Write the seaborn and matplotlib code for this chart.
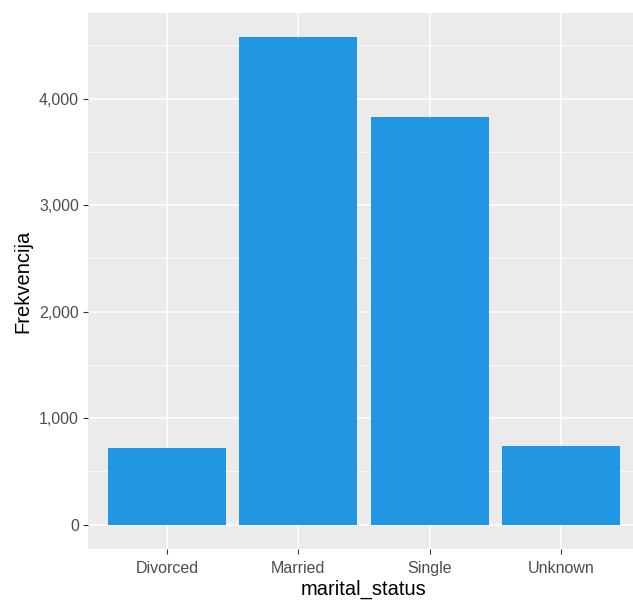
import matplotlib
matplotlib.use("Agg")
import matplotlib.pyplot as plt
import seaborn as sns
import pandas as pd
from matplotlib.ticker import FuncFormatter, MultipleLocator

categories = ["Divorced", "Married", "Single", "Unknown"]
counts = [719, 4575, 3824, 738]
y_ticks = [0, 1000, 2000, 3000, 4000]

df = pd.DataFrame({"marital_status": categories, "Frekvencija": counts})

sns.set_theme(style="darkgrid")
plt.rcParams["font.family"] = ["Liberation Sans", "DejaVu Sans"]

fig = plt.figure(figsize=(6.33, 6.05), dpi=100)
ax = fig.add_axes([0.139, 0.0926, 0.872, 0.886])
ax.set_facecolor("#EBEBEB")

sns.barplot(data=df, x="marital_status", y="Frekvencija", color="#2196E3",
            width=0.9, saturation=1, linewidth=0, edgecolor="none", ax=ax, zorder=3)

ymax = max(counts)
ax.set_ylim(-0.05 * ymax, 1.05 * ymax)
ax.set_xlim(-0.6, 3.6)
ax.set_yticks(y_ticks)
ax.yaxis.set_minor_locator(MultipleLocator(500))
ax.yaxis.set_major_formatter(FuncFormatter(lambda v, p: f"{int(v):,}"))

ax.grid(True, which="major", color="white", linewidth=1.1, zorder=0)
ax.grid(True, which="minor", axis="y", color="white", linewidth=0.55, zorder=0)
ax.set_axisbelow(True)
for s in ax.spines.values():
    s.set_visible(False)

ax.tick_params(axis="both", which="major", length=3.5, width=0.8, color="#333333",
               labelsize=11.5, labelcolor="#4D4D4D", pad=3, left=True, bottom=True)
ax.tick_params(axis="x", which="major", pad=5)
ax.tick_params(axis="both", which="minor", length=0)
ax.set_xlabel("marital_status", fontsize=14.5, color="black", labelpad=3)
ax.set_ylabel("Frekvencija", fontsize=14.5, color="black", labelpad=5)

fig.savefig("out.png", dpi=100, facecolor="white")
